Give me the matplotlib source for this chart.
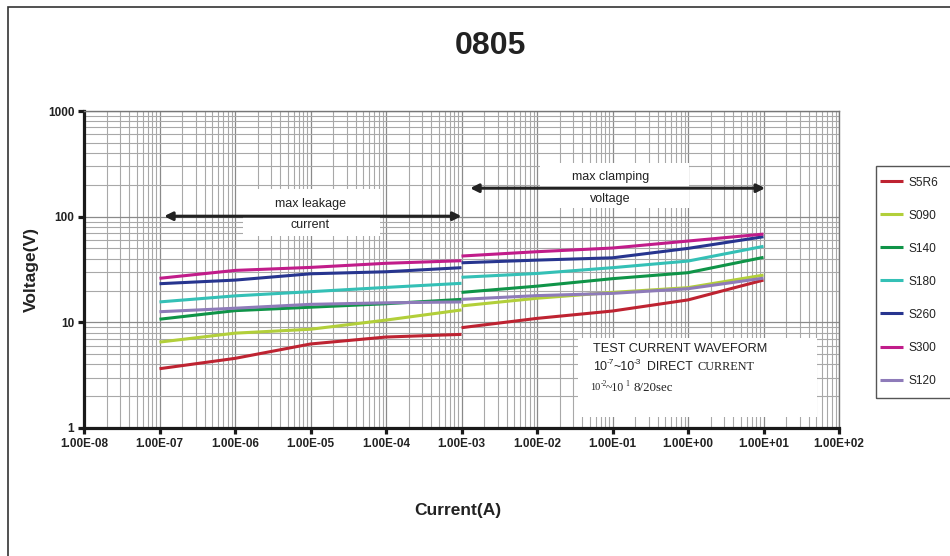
import matplotlib
matplotlib.use("Agg")
import matplotlib.pyplot as plt
from matplotlib.ticker import LogLocator, FixedLocator, NullFormatter
from matplotlib.patches import Rectangle
import numpy as np

plt.rcParams['font.family'] = ['Liberation Sans', 'DejaVu Sans']

# ---- data ----
current_dc = [1e-7, 1e-6, 1e-5, 1e-4, 1e-3]
current_pulse = [1e-3, 1e-2, 1e-1, 1e0, 1e1]

series_names = ["S5R6", "S090", "S140", "S180", "S260", "S300", "S120"]
series_colors = ["#BE2331", "#B2CF3A", "#0F9448", "#34C0B6", "#27358F", "#C11C8A", "#8E7BB9"]

s5r6_dc = [3.64, 4.56, 6.24, 7.26, 7.69]
s5r6_pulse = [8.9, 10.9, 12.8, 16.3, 25.1]
s090_dc = [6.5, 7.9, 8.6, 10.5, 13.1]
s090_pulse = [14.3, 16.9, 19.2, 21.3, 28.0]
s140_dc = [10.7, 12.9, 13.9, 15.0, 16.5]
s140_pulse = [19.2, 22.0, 25.9, 29.5, 41.2]
s180_dc = [15.6, 17.8, 19.5, 21.4, 23.4]
s180_pulse = [26.7, 29.0, 32.9, 38.0, 52.4]
s260_dc = [23.2, 25.1, 28.8, 30.1, 32.9]
s260_pulse = [36.6, 38.8, 40.8, 50.1, 64.6]
s300_dc = [26.1, 31.0, 33.1, 36.2, 38.3]
s300_pulse = [42.4, 46.6, 50.5, 58.8, 68.4]
s120_dc = [12.6, 13.6, 14.8, 15.3, 15.6]
s120_pulse = [16.5, 17.9, 18.8, 20.8, 26.2]

dc_values = [s5r6_dc, s090_dc, s140_dc, s180_dc, s260_dc, s300_dc, s120_dc]
pulse_values = [s5r6_pulse, s090_pulse, s140_pulse, s180_pulse, s260_pulse, s300_pulse, s120_pulse]

x_ticks = [1e-8, 1e-7, 1e-6, 1e-5, 1e-4, 1e-3, 1e-2, 1e-1, 1e0, 1e1, 1e2]
x_tick_labels = ["1.00E-08", "1.00E-07", "1.00E-06", "1.00E-05", "1.00E-04", "1.00E-03",
                 "1.00E-02", "1.00E-01", "1.00E+00", "1.00E+01", "1.00E+02"]
y_ticks = [1, 10, 100, 1000]
y_tick_labels = ["1", "10", "100", "1000"]

# ---- figure ----
W, H = 950, 556
fig = plt.figure(figsize=(9.5, 5.56), dpi=100)

def fx(px):
    return px / W

def fy(py):
    return 1 - py / H

# outer frame (extends beyond the image on right/bottom)
fig.patches.append(Rectangle((fx(8), fy(600)), fx(1000), fy(7) - fy(600),
                             transform=fig.transFigure, fill=False,
                             edgecolor="#333333", linewidth=1.2))

ax = fig.add_axes([fx(84), fy(428), fx(839) - fx(84), fy(111) - fy(428)])
ax.set_xscale('log')
ax.set_yscale('log')
ax.set_xlim(1e-8, 1e2)
ax.set_ylim(1, 1000)

ax.xaxis.set_major_locator(FixedLocator(x_ticks))
ax.set_xticklabels(x_tick_labels)
ax.yaxis.set_major_locator(FixedLocator(y_ticks))
ax.set_yticklabels(y_tick_labels)
ax.xaxis.set_minor_locator(LogLocator(base=10, subs=np.arange(2, 10), numticks=100))
ax.yaxis.set_minor_locator(LogLocator(base=10, subs=np.arange(2, 10), numticks=100))
ax.xaxis.set_minor_formatter(NullFormatter())
ax.yaxis.set_minor_formatter(NullFormatter())

ax.grid(True, which='major', color='#8a8a8a', linewidth=0.9)
ax.grid(True, which='minor', color='#a8a8a8', linewidth=0.8)
ax.set_axisbelow(True)

for s in ['left', 'bottom']:
    ax.spines[s].set_color('#1a1a1a')
    ax.spines[s].set_linewidth(2.3)
for s in ['top', 'right']:
    ax.spines[s].set_color('#777777')
    ax.spines[s].set_linewidth(1.0)

ax.tick_params(which='major', length=4, width=2.3, color='#1a1a1a', direction='out',
               labelsize=8.5, pad=3)
ax.tick_params(which='minor', length=0)
for lab in ax.get_xticklabels() + ax.get_yticklabels():
    lab.set_fontweight('bold')
    lab.set_color('#222222')

handles = []
for name, col, dc, pu in zip(series_names, series_colors, dc_values, pulse_values):
    h, = ax.plot(current_dc, dc, color=col, linewidth=2.2, solid_capstyle='butt', label=name, zorder=3)
    ax.plot(current_pulse, pu, color=col, linewidth=2.2, solid_capstyle='butt', zorder=3)
    handles.append(h)

# annotation boxes (white) in data coordinates
def white_box(lx0, lx1, ly0, ly1):
    ax.add_patch(Rectangle((10 ** lx0, 10 ** ly0), 10 ** lx1 - 10 ** lx0, 10 ** ly1 - 10 ** ly0,
                           facecolor='white', edgecolor='none', zorder=2.5))

white_box(-5.89, -4.08, 1.816, 2.261)
white_box(-1.96, 0.013, 2.081, 2.507)
white_box(-1.457, 1.71, 0.104, 0.851)

arrow_kw = dict(arrowstyle='<|-|>', color='#222222', lw=2.2, mutation_scale=12,
                shrinkA=0, shrinkB=0)
ax.annotate('', xy=(1e-3, 101), xytext=(1.15e-7, 101), arrowprops=arrow_kw, zorder=4)
ax.annotate('', xy=(1.05e1, 186), xytext=(1.3e-3, 186), arrowprops=arrow_kw, zorder=4)

ax.text(10 ** -5.0, 10 ** 2.12, 'max leakage', ha='center', va='center', fontsize=9,
        color='#222222', zorder=5)
ax.text(10 ** -5.0, 10 ** 1.92, 'current', ha='center', va='center', fontsize=9,
        color='#222222', zorder=5)
ax.text(10 ** -1.03, 10 ** 2.38, 'max clamping', ha='center', va='center', fontsize=9,
        color='#222222', zorder=5)
ax.text(10 ** -1.03, 10 ** 2.17, 'voltage', ha='center', va='center', fontsize=9,
        color='#222222', zorder=5)

txt = dict(ha='left', va='center', color='#222222')
fig.text(fx(593), fy(349), 'TEST CURRENT WAVEFORM', fontsize=9.2, **txt)
# second line built from pieces: 10^-7 ~ 10^-3 DIRECT CURRENT
fig.text(fx(593), fy(367), '10', fontsize=9.0, **txt)
fig.text(fx(607), fy(363), '-7', fontsize=6.0, **txt)
fig.text(fx(613), fy(367), '~10', fontsize=9.0, **txt)
fig.text(fx(634), fy(363), '-3', fontsize=6.0, **txt)
fig.text(fx(647), fy(367), 'DIRECT', fontsize=8.9, **txt)
fig.text(fx(697), fy(367), 'CURRENT', fontsize=8.8,
         family=['Liberation Serif', 'DejaVu Serif'], **txt)
# third line: 10^-2 ~ 10^1 8/20sec
serif = ['Liberation Serif', 'DejaVu Serif']
fig.text(fx(590), fy(388), '10', fontsize=7.5, family=serif, **txt)
fig.text(fx(601), fy(384), '-2', fontsize=5.5, family=serif, **txt)
fig.text(fx(606), fy(388), '~10', fontsize=8.5, family=serif, **txt)
fig.text(fx(625), fy(384), '1', fontsize=5.5, family=serif, **txt)
fig.text(fx(633), fy(388), '8/20sec', fontsize=9.3, family=serif, **txt)

# titles
fig.text(fx(490), fy(46), '0805', ha='center', va='center', fontsize=23, fontweight='bold',
         color='#222222')
fig.text(fx(458), fy(511), 'Current(A)', ha='center', va='center', fontsize=12.5,
         fontweight='bold', color='#222222')
fig.text(fx(31), fy(270), 'Voltage(V)', ha='center', va='center', fontsize=12.5,
         fontweight='bold', color='#222222', rotation=90)

# legend box extending beyond right edge
fig.patches.append(Rectangle((fx(876), fy(398)), fx(120), fy(166) - fy(398),
                             transform=fig.transFigure, fill=False,
                             edgecolor='#555555', linewidth=1.0))
leg = fig.legend(handles=handles, loc='upper left', bbox_to_anchor=(fx(876), fy(173)),
                 frameon=False, fontsize=8.6, handlelength=2.0, handletextpad=0.4,
                 labelspacing=1.76, borderaxespad=0, borderpad=0.3)
for t in leg.get_texts():
    t.set_color('#222222')

fig.savefig('out.png', dpi=100)
